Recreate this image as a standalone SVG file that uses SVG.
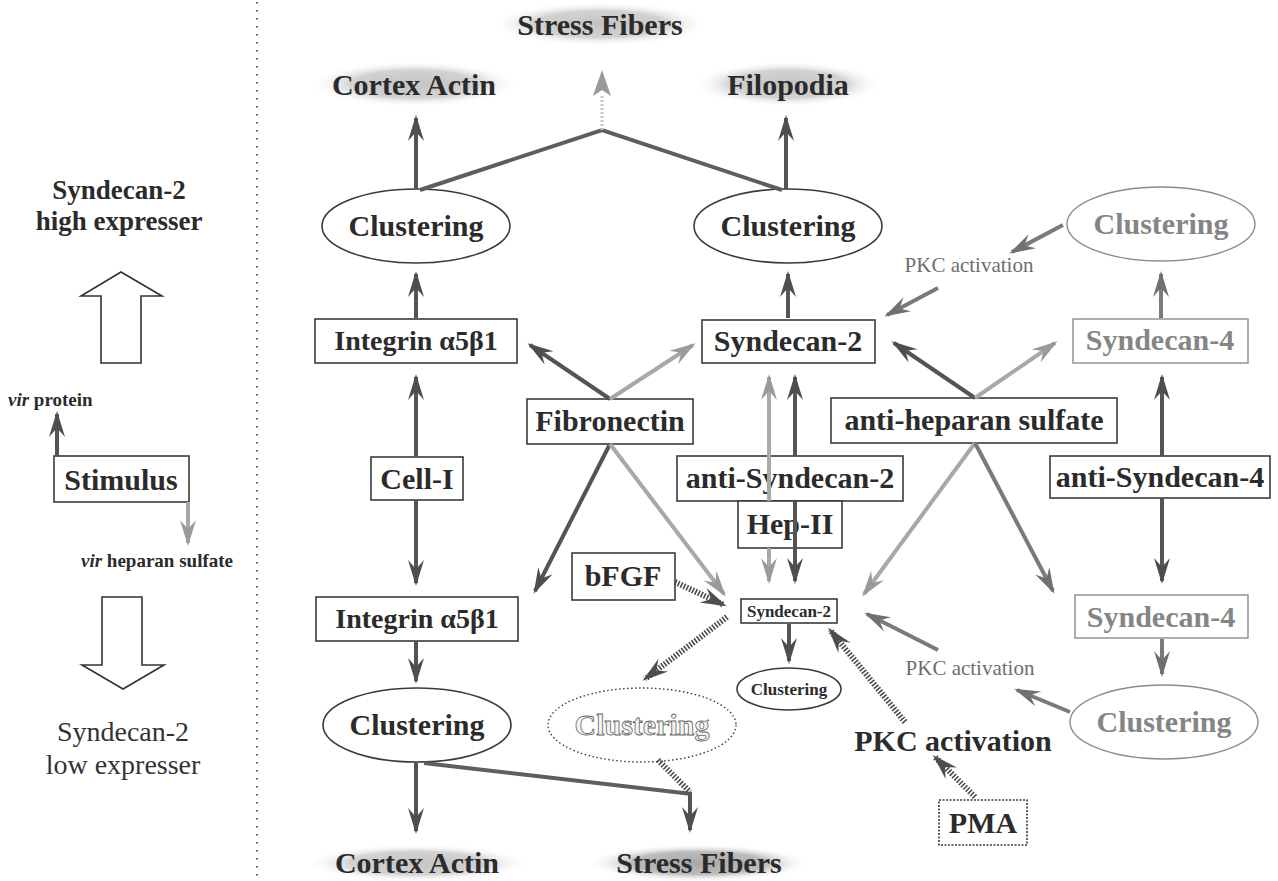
<svg xmlns="http://www.w3.org/2000/svg" width="1278" height="881" viewBox="0 0 1278 881">
  <style>
    .t { font-family: "Liberation Serif", "Times New Roman", serif; font-weight: bold; font-size: 30px; fill: #2b2b2b; text-anchor: middle; }
    .g { fill: #858585; }
    .s { font-size: 17px; }
    .m { font-size: 28px; }
    .hd { font-size: 27px; }
    .lo { font-weight: normal; font-size: 28px; fill: #333; }
    .pk { font-weight: normal; font-size: 21px; fill: #6e6e6e; }
    .lbl { font-size: 19px; text-anchor: start; }
    .hol { fill: #f4f4f4; stroke: #666; stroke-width: 0.8; }
    .box { fill: #fff; stroke: #3a3a3a; stroke-width: 1.6; }
    .gbox { fill: #fff; stroke: #8c8c8c; stroke-width: 1.4; }
    .dbox { fill: #fff; stroke: #3a3a3a; stroke-width: 1.6; stroke-dasharray: 2 1.5; }
    .ell { fill: #fff; stroke: #3a3a3a; stroke-width: 1.6; }
    .gell { fill: #fff; stroke: #8c8c8c; stroke-width: 1.4; }
    .dell { fill: #fff; stroke: #3a3a3a; stroke-width: 1.4; stroke-dasharray: 1.5 2.5; }
    .big { fill: #fff; stroke: #333; stroke-width: 1.6; }
    .dk { fill: none; stroke: #545454; stroke-width: 4; marker-end: url(#ad); }
    .md { fill: none; stroke: #7a7a7a; stroke-width: 4; marker-end: url(#am); }
    .lt { fill: none; stroke: #a8a8a8; stroke-width: 4; marker-end: url(#al); }
    .ht { fill: none; stroke: #4a4a4a; stroke-width: 6; stroke-dasharray: 1.6 1.6; marker-end: url(#ad); }
    .ln { fill: none; stroke: #5e5e5e; stroke-width: 4; }
    .hl { fill: none; stroke: #4a4a4a; stroke-width: 6; stroke-dasharray: 1.6 1.6; }
  </style>
  <defs>
    <marker id="ad" viewBox="-27 -9 30 18" refX="-3" refY="0" markerWidth="30" markerHeight="18" orient="auto" markerUnits="userSpaceOnUse">
      <path d="M0,0 L-26,-8 L-17,0 L-26,8 Z" fill="#4e4e4e"/>
    </marker>
    <marker id="am" viewBox="-27 -9 30 18" refX="-3" refY="0" markerWidth="30" markerHeight="18" orient="auto" markerUnits="userSpaceOnUse">
      <path d="M0,0 L-26,-8 L-17,0 L-26,8 Z" fill="#707070"/>
    </marker>
    <marker id="al" viewBox="-27 -9 30 18" refX="-3" refY="0" markerWidth="30" markerHeight="18" orient="auto" markerUnits="userSpaceOnUse">
      <path d="M0,0 L-26,-8 L-17,0 L-26,8 Z" fill="#9a9a9a"/>
    </marker>
    <radialGradient id="cloud" cx="0.5" cy="0.5" r="0.5">
      <stop offset="0" stop-color="#c4c4c4"/>
      <stop offset="0.6" stop-color="#d2d2d2"/>
      <stop offset="1" stop-color="#ffffff" stop-opacity="0"/>
    </radialGradient>
    <radialGradient id="cloudDark" cx="0.5" cy="0.5" r="0.5">
      <stop offset="0" stop-color="#a8a8a8"/>
      <stop offset="0.6" stop-color="#bcbcbc"/>
      <stop offset="1" stop-color="#ffffff" stop-opacity="0"/>
    </radialGradient>
  </defs>

  <rect width="1278" height="881" fill="#fff"/>

  <!-- left legend panel -->
  <g id="legend">
    <text class="t hd" x="119" y="199">Syndecan-2</text>
    <text class="t hd" x="119" y="230">high expresser</text>
    <path class="big" d="M101,363 L101,296 L81,296 L121,272 L162,296 L141,296 L141,363 Z"/>
    <text class="t lbl" x="8" y="406"><tspan font-style="italic">vir</tspan> protein</text>
    <g id="stimulus">
      <rect class="box" x="54" y="456" width="135" height="46"/>
      <text class="t" x="121" y="490">Stimulus</text>
    </g>
    <text class="t lbl" x="81" y="567"><tspan font-style="italic">vir</tspan> heparan sulfate</text>
    <path class="big" d="M102,597 L142,597 L142,665 L164,665 L123,689 L82,665 L102,665 Z"/>
    <text class="t lo" x="123" y="741">Syndecan-2</text>
    <text class="t lo" x="123" y="774">low expresser</text>
  </g>
  <line x1="257" y1="2" x2="257" y2="880" stroke="#333" stroke-width="1.6" stroke-dasharray="1.5 6.5"/>

  <!-- actin structure outcomes -->
  <g id="stress-top">
    <ellipse cx="600" cy="24" rx="110" ry="22" fill="url(#cloud)"/>
    <text class="t" x="600" y="35">Stress Fibers</text>
  </g>
  <g id="cortex-top">
    <ellipse cx="414" cy="84" rx="105" ry="23" fill="url(#cloud)"/>
    <text class="t" x="414" y="95">Cortex Actin</text>
  </g>
  <g id="filopodia">
    <ellipse cx="788" cy="84" rx="95" ry="23" fill="url(#cloud)"/>
    <text class="t" x="788" y="95">Filopodia</text>
  </g>
  <g id="cortex-bottom">
    <ellipse cx="417" cy="863" rx="112" ry="19" fill="url(#cloud)"/>
    <text class="t" x="417" y="873">Cortex Actin</text>
  </g>
  <g id="stress-bottom">
    <ellipse cx="699" cy="863" rx="112" ry="19" fill="url(#cloudDark)"/>
    <text class="t" x="699" y="873">Stress Fibers</text>
  </g>

  <!-- clustering states -->
  <g id="clu-int-top">
    <ellipse class="ell" cx="416" cy="226" rx="94" ry="37"/>
    <text class="t" x="416" y="236">Clustering</text>
  </g>
  <g id="clu-syn2-top">
    <ellipse class="ell" cx="788" cy="226" rx="94" ry="37"/>
    <text class="t" x="788" y="236">Clustering</text>
  </g>
  <g id="clu-syn4-top">
    <ellipse class="gell" cx="1161" cy="224" rx="94" ry="37"/>
    <text class="t g" x="1161" y="234">Clustering</text>
  </g>
  <g id="clu-int-bottom">
    <ellipse class="ell" cx="417" cy="725" rx="94" ry="37"/>
    <text class="t" x="417" y="735">Clustering</text>
  </g>
  <g id="clu-dotted">
    <ellipse class="dell" cx="642" cy="725" rx="94" ry="37"/>
    <text class="t hol" x="642" y="735">Clustering</text>
  </g>
  <g id="clu-small">
    <ellipse class="ell" cx="789" cy="689" rx="52" ry="21"/>
    <text class="t s" x="789" y="695">Clustering</text>
  </g>
  <g id="clu-syn4-bottom">
    <ellipse class="gell" cx="1164" cy="722" rx="94" ry="37"/>
    <text class="t g" x="1164" y="732">Clustering</text>
  </g>

  <!-- receptors and ligands -->
  <g id="integrin-top">
    <rect class="box" x="315" y="319" width="202" height="44"/>
    <text class="t m" x="416" y="350">Integrin α5β1</text>
  </g>
  <g id="syndecan2-top">
    <rect class="box" x="702" y="320" width="173" height="43"/>
    <text class="t" x="788" y="351">Syndecan-2</text>
  </g>
  <g id="syndecan4-top">
    <rect class="gbox" x="1073" y="319" width="175" height="44"/>
    <text class="t g" x="1160" y="350">Syndecan-4</text>
  </g>
  <g id="fibronectin">
    <rect class="box" x="527" y="399" width="166" height="45"/>
    <text class="t" x="610" y="431">Fibronectin</text>
  </g>
  <g id="anti-hs">
    <rect class="box" x="831" y="398" width="286" height="45"/>
    <text class="t" x="974" y="430">anti-heparan sulfate</text>
  </g>
  <g id="cell-i">
    <rect class="box" x="371" y="457" width="92" height="43"/>
    <text class="t" x="417" y="489">Cell-I</text>
  </g>
  <g id="anti-syn2">
    <rect class="box" x="677" y="456" width="226" height="45"/>
    <text class="t" x="790" y="488">anti-Syndecan-2</text>
  </g>
  <g id="hep-ii">
    <rect class="box" x="738" y="501" width="104" height="47"/>
    <text class="t" x="790" y="534">Hep-II</text>
  </g>
  <g id="anti-syn4">
    <rect class="box" x="1050" y="456" width="220" height="42"/>
    <text class="t" x="1160" y="487">anti-Syndecan-4</text>
  </g>
  <g id="bfgf">
    <rect class="box" x="572" y="553" width="103" height="47"/>
    <text class="t" x="623" y="586">bFGF</text>
  </g>
  <g id="integrin-bottom">
    <rect class="box" x="316" y="597" width="202" height="44"/>
    <text class="t m" x="417" y="628">Integrin α5β1</text>
  </g>
  <g id="syndecan2-small">
    <rect class="box" x="741" y="599" width="96" height="24"/>
    <text class="t s" x="789" y="617">Syndecan-2</text>
  </g>
  <g id="syndecan4-bottom">
    <rect class="gbox" x="1075" y="595" width="173" height="43"/>
    <text class="t g" x="1161" y="627">Syndecan-4</text>
  </g>
  <g id="pkc-top">
    <text class="t pk" x="969" y="272">PKC activation</text>
  </g>
  <g id="pkc-mid">
    <text class="t pk" x="970" y="675">PKC activation</text>
  </g>
  <g id="pkc-big">
    <text class="t" x="953" y="751">PKC activation</text>
  </g>
  <g id="pma">
    <rect class="dbox" x="939" y="800" width="88" height="45"/>
    <text class="t" x="983" y="833">PMA</text>
  </g>

  <!-- connectors -->
  <g id="connectors">
    <!-- legend -->
    <path class="dk" d="M57,456 L57,414"/>
    <path class="lt" d="M188,502 L188,543"/>
    <!-- toward actin structures -->
    <path class="dk" d="M416,189 L416,118"/>
    <path class="dk" d="M786,189 L786,118"/>
    <path class="ln" d="M420,190 L602,130 L782,190"/>
    <path d="M602,130 L602,96" stroke="#c4c4c4" stroke-width="3" stroke-dasharray="2 2" fill="none"/>
    <path d="M602,70 L593,96 L602,90 L611,96 Z" fill="#9a9a9a"/>
    <!-- receptor to clustering -->
    <path class="dk" d="M416,318 L416,274"/>
    <path class="dk" d="M788,318 L788,274"/>
    <path class="md" d="M1161,318 L1161,274"/>
    <!-- fibronectin -->
    <path class="dk" d="M610,399 L530,345"/>
    <path class="lt" d="M610,399 L693,345"/>
    <path class="dk" d="M610,444 L535,591"/>
    <path class="lt" d="M610,444 L724,594"/>
    <!-- anti-heparan sulfate -->
    <path class="dk" d="M975,398 L894,343"/>
    <path class="lt" d="M975,398 L1055,343"/>
    <path class="lt" d="M975,443 L864,594"/>
    <path class="md" d="M975,443 L1053,591"/>
    <!-- Cell-I -->
    <path class="dk" d="M416,457 L416,377"/>
    <path class="dk" d="M416,500 L416,583"/>
    <!-- anti-Syndecan-2 and Hep-II -->
    <path class="lt" d="M769,501 L769,377"/>
    <path class="lt" d="M769,548 L769,581"/>
    <path class="dk" d="M795,456 L795,377"/>
    <path class="dk" d="M795,501 L795,581"/>
    <!-- anti-Syndecan-4 -->
    <path class="dk" d="M1162,456 L1162,377"/>
    <path class="dk" d="M1162,498 L1162,581"/>
    <path class="md" d="M1162,639 L1162,674"/>
    <!-- integrin lower path -->
    <path class="dk" d="M416,641 L416,681"/>
    <path class="dk" d="M416,762 L416,831"/>
    <path class="ln" d="M424,763 L692,794"/>
    <path class="hl" d="M658,760 L690,792"/>
    <path class="dk" d="M690,794 L690,830"/>
    <!-- syndecan-2 small -->
    <path class="dk" d="M789,624 L789,661"/>
    <path class="ht" d="M675,582 L724,605"/>
    <path class="ht" d="M727,617 L645,679"/>
    <path class="ht" d="M905,722 L830,630"/>
    <path class="ht" d="M975,797 L935,757"/>
    <!-- PKC activation, syndecan-4 side -->
    <path class="md" d="M1063,225 L1012,252"/>
    <path class="md" d="M938,288 L887,315"/>
    <path class="md" d="M1070,712 L1017,690"/>
    <path class="md" d="M938,650 L867,614"/>
  </g>
</svg>
